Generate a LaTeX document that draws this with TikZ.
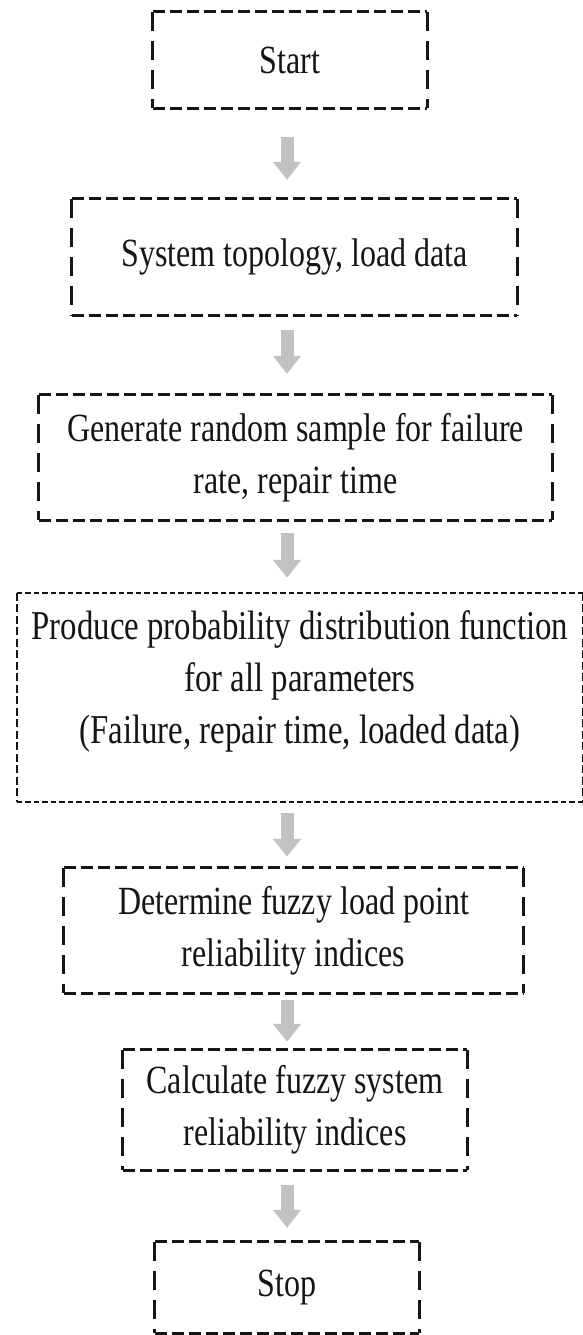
\documentclass[tikz,border=0pt]{standalone}
\usepackage{fontspec}
\setmainfont{Liberation Serif}[FakeStretch=0.8]
\usetikzlibrary{arrows.meta}
\definecolor{arrowgray}{HTML}{C2C2C2}
\definecolor{inkgray}{HTML}{151515}
\begin{document}
\begin{tikzpicture}[x=1pt,y=-1pt,
  box/.style={draw=none, align=center, inner sep=0pt, text=inkgray,
              font=\fontsize{40}{52}\selectfont},
  hside/.style={line width=2.8pt, draw=inkgray, dash pattern=on 12pt off 5pt},
  vside/.style={line width=2.8pt, draw=inkgray, dash pattern=on 19pt off 10pt},
  hfine/.style={line width=2.5pt, draw=inkgray, dash pattern=on 5.5pt off 3pt},
  vfine/.style={line width=2.5pt, draw=inkgray, dash pattern=on 8pt off 3.5pt},
  blockarrow/.style={draw=arrowgray, line width=13pt,
                     -{Triangle[width=27pt,length=18pt]}},
]
\useasboundingbox (0,0) rectangle (582,1335);
\fill[white] (0,0) rectangle (582,1335);

\coordinate (ax) at (287,0);

\node[box, minimum width=274pt, minimum height=96pt]  (b1) at (290,60) {Start};
\node[box, minimum width=445pt, minimum height=116pt] (b2) at (294.5,257) {System topology, load data};
\node[box, minimum width=513pt, minimum height=125pt] (b3) at (295.5,457.5) {Generate random sample for failure\\rate, repair time};
\node[box, minimum width=566pt, minimum height=209pt, text depth=40pt,
      font=\fontsize{41}{52}\selectfont] (b4) at (300,697.5)
      {Produce probability distribution function\\for all parameters\\(Failure, repair time, loaded data)};
\node[box, minimum width=459pt, minimum height=125pt] (b5) at (293.5,930.5) {Determine fuzzy load point\\reliability indices};
\node[box, minimum width=344pt, minimum height=120pt] (b6) at (295,1110) {Calculate fuzzy system\\reliability indices};
\node[box, minimum width=264pt, minimum height=91pt]  (b7) at (287,1287.5) {Stop};

\foreach \n in {b1,b2,b3,b5,b6,b7}{
  \draw[hside] (\n.north west) -- (\n.north east);
  \draw[hside] (\n.south west) -- (\n.south east);
  \draw[vside] (\n.north west) -- (\n.south west);
  \draw[vside] (\n.north east) -- (\n.south east);
}
\draw[hfine] (b4.north west) -- (b4.north east);
\draw[hfine] (b4.south west) -- (b4.south east);
\draw[vfine] (b4.north west) -- (b4.south west);
\draw[vfine] (b4.north east) -- (b4.south east);

\draw[blockarrow, shorten <=29pt, shorten >=19pt] (b1.south -| ax) -- (b2.north -| ax);
\draw[blockarrow, shorten <=15pt, shorten >=21pt] (b2.south -| ax) -- (b3.north -| ax);
\draw[blockarrow, shorten <=13pt, shorten >=15pt] (b3.south -| ax) -- (b4.north -| ax);
\draw[blockarrow, shorten <=11pt, shorten >=11pt] (b4.south -| ax) -- (b5.north -| ax);
\draw[blockarrow, shorten <=7pt,  shorten >=8pt]  (b5.south -| ax) -- (b6.north -| ax);
\draw[blockarrow, shorten <=15pt, shorten >=14pt] (b6.south -| ax) -- (b7.north -| ax);
\end{tikzpicture}
\end{document}
